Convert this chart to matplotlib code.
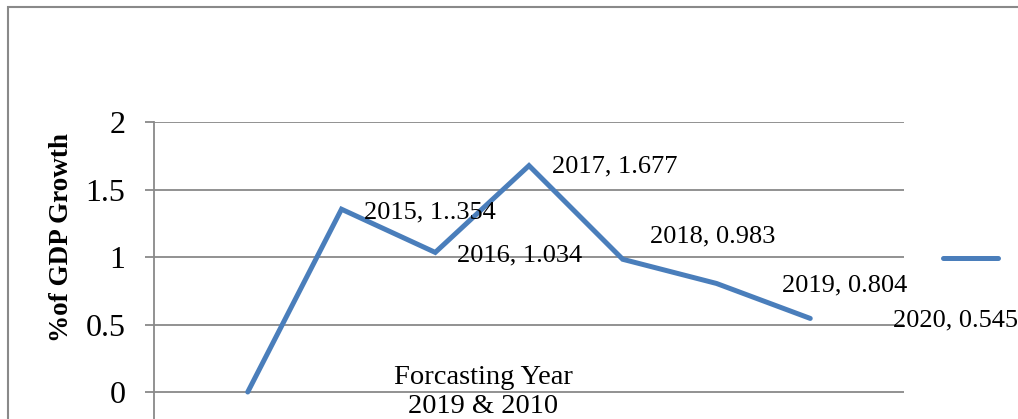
import matplotlib.pyplot as plt
from matplotlib.lines import Line2D
from matplotlib.patches import Rectangle

# data
years = ["", "2015", "2016", "2017", "2018", "2019", "2020"]
growth = [0, 1.354, 1.034, 1.677, 0.983, 0.804, 0.545]
value_text = ["", "1..354", "1.034", "1.677", "0.983", "0.804", "0.545"]
yticks = [0, 0.5, 1, 1.5, 2]
ytick_labels = ["0", "0.5", "1", "1.5", "2"]

# label offsets from each point, in pixels
label_offsets = [None, (22, -3), (22, -3), (23, -1), (27, 23), (65, -2), (83, -2)]

W, H = 1018, 419
line_color = '#4A7EBB'
grid_color = '#898989'

plt.rcParams['font.family'] = ['Liberation Serif', 'DejaVu Serif']

fig = plt.figure(figsize=(W / 100, H / 100), dpi=100)

# plot area: x 154..904 px, y top at 122 px, runs off the bottom of the picture
ax = fig.add_axes([154 / W, 0, 750 / W, (H - 122) / H])
ax.set_xlim(0, 8)
ax.set_ylim(-27 / 135, 2)

xs = list(range(1, len(growth) + 1))
ax.plot(xs, growth, color=line_color, lw=3.6, solid_capstyle='round', solid_joinstyle='miter')

for x, y, yr, v, off in zip(xs, growth, years, value_text, label_offsets):
    if off is None:
        continue
    ax.annotate(f"{yr}, {v}", (x, y), xytext=off, textcoords='offset pixels',
                ha='left', va='center', fontsize=19, annotation_clip=False)

ax.set_yticks(yticks)
ax.set_yticklabels(ytick_labels, fontsize=23)
ax.set_xticks([])
ax.yaxis.grid(True, color=grid_color, lw=1.3)
ax.tick_params(axis='y', length=6.5, width=1.3, color=grid_color, pad=14)
for s in ['top', 'right', 'bottom']:
    ax.spines[s].set_visible(False)
ax.spines['left'].set_color(grid_color)
ax.spines['left'].set_linewidth(1.3)

# y title
fig.text(61 / W, 1 - 238 / H, "%of GDP Growth", rotation=90, ha='center', va='center',
         fontsize=19.5, fontweight='bold')

# x title (sits over the plot in the original)
fig.text(483 / W, 1 - 392 / H, "Forcasting Year\n2019 & 2010", ha='center', va='center',
         fontsize=20.5, linespacing=1.2)

# legend, its text runs off the right edge of the picture
handle = Line2D([], [], color=line_color, lw=3.6, solid_capstyle='round')
fig.legend([handle], [""], loc='center left', bbox_to_anchor=(943 / W, 1 - 260 / H),
           frameon=False, handlelength=2.1, borderpad=0, borderaxespad=0,
           handletextpad=0, fontsize=19)

# chart border
fig.add_artist(Rectangle((8 / W, -0.1), 1.2, 1.1 - 7 / H, transform=fig.transFigure,
                         fill=False, edgecolor=grid_color, lw=1.5))

fig.savefig('out.png', dpi=100)
